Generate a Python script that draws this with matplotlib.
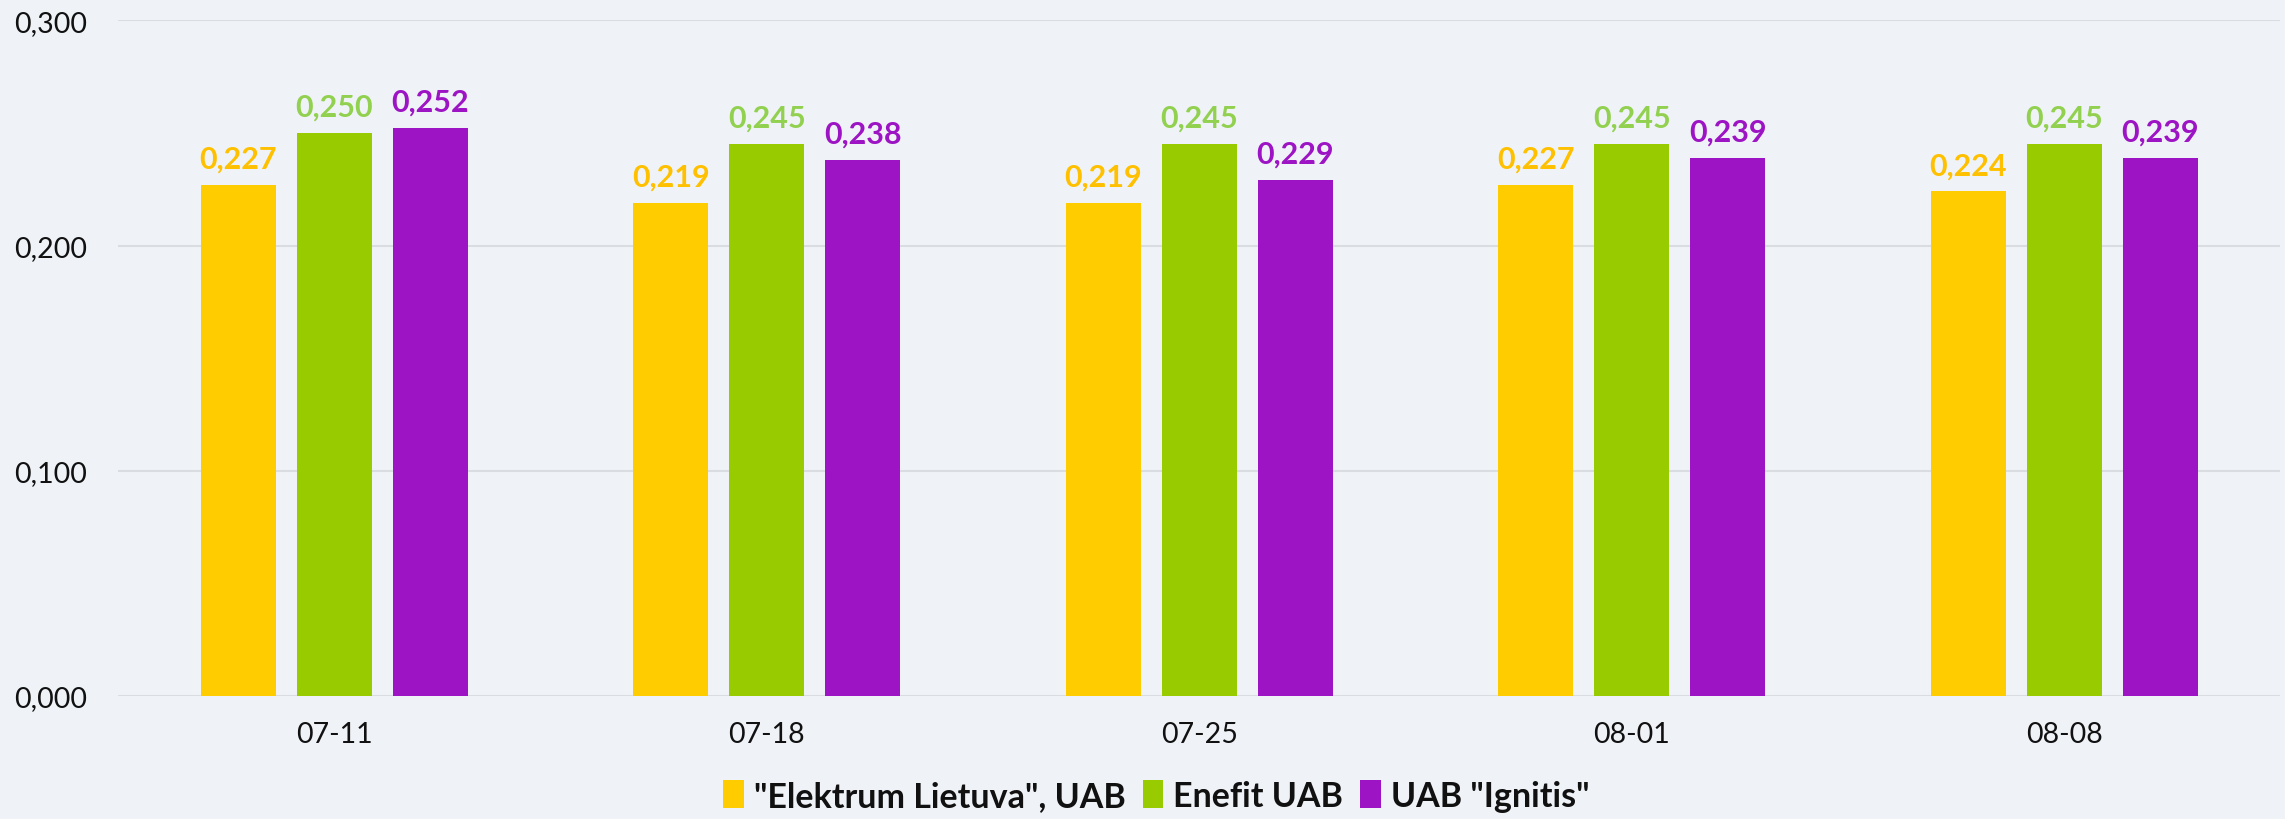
import matplotlib

matplotlib.use("Agg")
import matplotlib.pyplot as plt
import numpy as np

dates = ["07-11", "07-18", "07-25", "08-01", "08-08"]
elektrum = [0.227, 0.219, 0.219, 0.227, 0.224]
enefit = [0.250, 0.245, 0.245, 0.245, 0.245]
ignitis = [0.252, 0.238, 0.229, 0.239, 0.239]

series = [
    ('"Elektrum Lietuva", UAB', elektrum, "#FFCC00", "#FFC000"),
    ("Enefit UAB", enefit, "#99CC00", "#92D050"),
    ('UAB "Ignitis"', ignitis, "#9C14C4", "#9C14C4"),
]

bg = "#EFF3F7"
plt.rcParams["font.family"] = ["Lato", "DejaVu Sans"]

fig = plt.figure(figsize=(22.85, 8.2), dpi=100, facecolor=bg)
ax = fig.add_axes([0.0516, 0.150, 0.9464, 0.824], facecolor=bg)

x = np.arange(len(dates))
step = 0.222
width = 0.173

for i, (name, vals, color, lcolor) in enumerate(series):
    pos = x + (i - 1) * step
    bars = ax.bar(pos, vals, width=width, color=color, label=name, zorder=3)
    for b, v in zip(bars, vals):
        ax.text(b.get_x() + b.get_width() / 2, v + 0.0055, f"{v:.3f}".replace(".", ","),
                ha="center", va="bottom", fontsize=22, fontweight="bold", color=lcolor)

ax.set_xlim(-0.5, len(dates) - 0.5)
ax.set_ylim(0, 0.3)
ax.set_yticks([0, 0.1, 0.2, 0.3])
ax.set_yticklabels([f"{t:.3f}".replace(".", ",") for t in [0, 0.1, 0.2, 0.3]])
ax.set_xticks(x)
ax.set_xticklabels(dates)
ax.tick_params(axis="both", length=0, labelsize=20.5, colors="#111111")
ax.tick_params(axis="y", pad=22)
ax.tick_params(axis="x", pad=18)
ax.yaxis.grid(True, color="#D9DCE0", linewidth=1.5, zorder=0)
for s in ax.spines.values():
    s.set_visible(False)

leg = fig.legend(loc="center", bbox_to_anchor=(0.506, 0.028), ncol=3, frameon=False,
                 prop={"size": 24.5, "weight": "bold"}, handlelength=0.6, handleheight=0.9,
                 handletextpad=0.3, columnspacing=0.5)
for t in leg.get_texts():
    t.set_color("#111111")

fig.savefig("out.png", dpi=100, facecolor=bg)
